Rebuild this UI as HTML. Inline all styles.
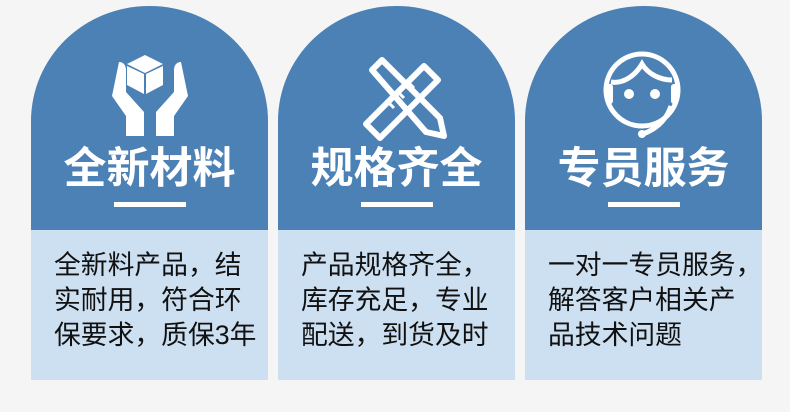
<html><head><style>
body{margin:0;width:790px;height:412px;background:#f5f5f5;position:relative;overflow:hidden;font-family:"Liberation Sans","Noto Sans CJK SC",sans-serif}
.c{position:absolute;top:6px;width:237px;height:374px}
.t{position:absolute;left:0;top:0;width:237px;height:224px;background:#4c81b6;border-radius:118px 118px 0 0/115px 115px 0 0}
.b{position:absolute;left:0;top:224px;width:237px;height:150px;background:#cde0f2}
.h{position:absolute;left:0;width:237px;top:134px;text-align:center;color:#fff;font-size:43px;font-weight:bold;line-height:58px}
.u{position:absolute;left:83px;top:196px;width:72px;height:5px;background:#fff}
.p{position:absolute;left:23px;top:242px;font-size:26.8px;line-height:35px;color:#111;white-space:nowrap}
svg{position:absolute;left:0;top:0}
</style></head><body>
<div class="c" style="left:31px"><div class="t"></div><div class="b"></div>
<svg width="237" height="140"><g fill="#fff"><path d="M96 58 l18 -9 18 9 -18 9z"/><path d="M96 60 l17 8 v20 l-17-9z"/><path d="M132 60 l-17 8 v20 l17-9z"/>
<path d="M88 56 c5 0 7 4 7 8 v22 l18 20 v24 h-18 v-20 l-14 -20 z"/><path d="M150 56 c-5 0 -7 4 -7 8 v22 l-18 20 v24 h18 v-20 l14 -20 z"/></g></svg>
<div class="h">全新材料</div><div class="u"></div>
<div class="p">全新料产品，结<br>实耐用，符合环<br>保要求，质保3年</div></div>
<div class="c" style="left:278px"><div class="t"></div><div class="b"></div>
<svg width="237" height="140"><g fill="none" stroke="#fff" stroke-width="6" stroke-linejoin="round"><path d="M88 118 l58 -58 14 14 -58 58z"/><path d="M94 64 l10 -10 58 58 4 18 -18 -4z"/></g><g stroke="#fff" stroke-width="3"><path d="M110 96 l6 6 M120 86 l6 6 M130 76 l6 6"/></g></svg>
<div class="h">规格齐全</div><div class="u"></div>
<div class="p">产品规格齐全，<br>库存充足，专业<br>配送，到货及时</div></div>
<div class="c" style="left:525px"><div class="t"></div><div class="b"></div>
<svg width="237" height="140"><g fill="none" stroke="#fff" stroke-width="5"><circle cx="117" cy="84" r="36"/><path d="M86 76 c12 2 24 -6 31 -18 c6 10 18 16 30 16"/><path d="M146 100 c-4 12 -12 22 -28 28"/></g>
<g fill="#fff"><rect x="81" y="78" width="7" height="20" rx="3"/><rect x="146" y="78" width="7" height="20" rx="3"/><circle cx="117" cy="128" r="4"/><circle cx="104" cy="88" r="5"/><circle cx="130" cy="88" r="5"/></g></svg>
<div class="h">专员服务</div><div class="u"></div>
<div class="p">一对一专员服务，<br>解答客户相关产<br>品技术问题</div></div>
</body></html>
